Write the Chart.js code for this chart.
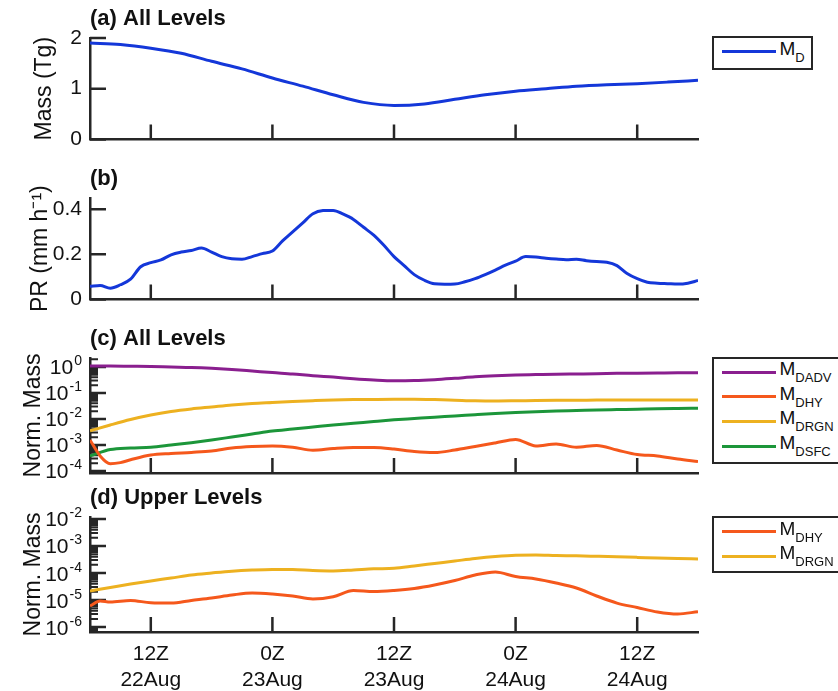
<!DOCTYPE html>
<html><head><meta charset="utf-8">
<script src="https://cdn.jsdelivr.net/npm/chart.js@4.4.1/dist/chart.umd.min.js"></script>
<style>
html,body{margin:0;padding:0;background:#fff;overflow:hidden;}
#wrap{position:relative;width:838px;height:691px;overflow:hidden;background:#fff;font-family:"Liberation Sans",Arial,Helvetica,sans-serif;}
#wrap canvas{position:absolute;left:0;}
.legend{position:absolute;border:2.5px solid #262626;background:#fff;box-sizing:border-box;}
.legend .row{position:absolute;left:7.5px;height:0;white-space:nowrap;}
.legend .swatch{position:absolute;left:0;top:-1.5px;width:54px;height:3px;}
.legend .lab{position:absolute;left:58px;top:-13.3px;font-size:19px;line-height:19px;color:#111;}
.legend sub{font-size:13px;vertical-align:baseline;position:relative;top:7px;}
</style></head><body><div id="wrap"></div>
<script>
// ---------------- data ----------------
const X_TICKS = [6, 18, 30, 42, 54];               // hours after 06Z 22 Aug
const X_TICK_TIMES = ['12Z', '0Z', '12Z', '0Z', '12Z'];
const X_TICK_DATES = ['22Aug', '23Aug', '23Aug', '24Aug', '24Aug'];

const HOURS_3H = [0,3,6,9,12,15,18,21,24,27,30,33,36,39,42,45,48,51,54,57,60];
const MASS_MD = [1.90,1.87,1.80,1.70,1.54,1.39,1.21,1.05,0.88,0.73,0.67,0.70,0.79,0.88,0.95,1.00,1.05,1.08,1.10,1.13,1.165];

const HOURS_1H = [0,1,2,3,4,5,6,7,8,9,10,11,12,13,14,15,16,17,18,19,20,21,22,23,24,25,26,27,28,29,30,
  31,32,33,34,35,36,37,38,39,40,41,42,43,44,45,46,47,48,49,50,51,52,53,54,55,56,57,58,59,60];
const PR = [0.058,0.062,0.050,0.065,0.090,0.145,0.163,0.175,0.198,0.210,0.217,0.228,0.210,0.190,0.180,0.178,0.190,0.203,0.215,0.260,0.300,0.340,0.380,0.394,0.395,0.378,0.355,0.320,0.285,0.240,0.190,0.150,0.110,0.085,0.069,0.067,0.068,0.078,0.092,0.110,0.130,0.152,0.170,0.190,0.188,0.183,0.179,0.176,0.178,0.172,0.168,0.165,0.150,0.115,0.092,0.076,0.072,0.070,0.068,0.072,0.084];

const HOURS_2H = [0,2,4,6,8,10,12,14,16,18,20,22,24,26,28,30,32,34,36,38,40,42,44,46,48,50,52,54,56,58,60];
const DADV_ALL = [1.09,1.09,1.07,1.05,1.0,0.96,0.89,0.80,0.70,0.61,0.54,0.46,0.41,0.355,0.316,0.294,0.30,0.325,0.367,0.42,0.46,0.49,0.51,0.53,0.54,0.55,0.57,0.58,0.59,0.60,0.60];
const DRGN_ALL = [0.0035,0.0059,0.0096,0.0143,0.0194,0.0243,0.029,0.0346,0.0395,0.0432,0.0471,0.0506,0.0538,0.0557,0.0567,0.0573,0.0573,0.0557,0.0529,0.0501,0.0492,0.0501,0.0515,0.0524,0.0529,0.0533,0.0538,0.0538,0.0543,0.0543,0.0538];
const DSFC_ALL = [0.00038,0.00067,0.00077,0.00082,0.0010,0.00123,0.00156,0.00203,0.00265,0.00346,0.00412,0.00492,0.00588,0.00684,0.00802,0.00931,0.01045,0.01173,0.01304,0.01463,0.01629,0.01778,0.0191,0.0203,0.0212,0.0222,0.023,0.0238,0.0247,0.0253,0.0258];
const HOURS_DHY_ALL = [0,1,2,3,4,6,8,10,12,14,16,18,20,22,24,26,28,30,32,34,36,38,40,42,44,46,48,50,52,54,56,58,60];
const DHY_ALL = [0.00156,0.00038,0.00019,0.00021,0.00027,0.00041,0.00047,0.00052,0.00059,0.00077,0.00088,0.00092,0.00082,0.00063,0.00073,0.0008,0.0008,0.0007,0.00056,0.00051,0.00064,0.00088,0.0012,0.00163,0.00092,0.00109,0.00082,0.00096,0.00064,0.00043,0.00038,0.00029,0.00023];

const DRGN_UPPER = [2.15e-5,2.9e-5,3.9e-5,5.1e-5,6.5e-5,8.4e-5,1.0e-4,1.17e-4,1.29e-4,1.36e-4,1.35e-4,1.24e-4,1.19e-4,1.29e-4,1.43e-4,1.49e-4,1.82e-4,2.25e-4,2.78e-4,3.44e-4,4.08e-4,4.56e-4,4.64e-4,4.45e-4,4.34e-4,4.16e-4,3.98e-4,3.79e-4,3.6e-4,3.44e-4,3.3e-4];
const HOURS_DHY_UPPER = [0,1,2,4,6,8,10,12,14,16,18,20,22,24,26,28,30,32,34,36,38,40,42,44,46,48,50,52,54,56,58,60];
const DHY_UPPER = [6.0e-6,9.2e-6,8.4e-6,9.6e-6,7.9e-6,7.7e-6,9.6e-6,1.19e-5,1.53e-5,1.82e-5,1.67e-5,1.41e-5,1.09e-5,1.32e-5,2.25e-5,2.06e-5,2.25e-5,2.67e-5,3.6e-5,5.27e-5,8.43e-5,1.09e-4,7.4e-5,6.0e-5,4.26e-5,2.78e-5,1.41e-5,7.7e-6,5.27e-6,3.6e-6,3.03e-6,3.69e-6];

const Y_TICKS_A = [0, 1, 2];
const Y_TICKS_B = [0, 0.2, 0.4];
const Y_TICK_LABELS_B = ['0', '0.2', '0.4'];
const Y_EXP_C = [-4, -3, -2, -1, 0];
const Y_EXP_D = [-6, -5, -4, -3, -2];

// ---------------- styling ----------------
const FONT = '"Liberation Sans", Arial, Helvetica, sans-serif';
const AXIS_COLOR = '#262626';
const TEXT = '#111111';
const C_BLUE = '#1437d9', C_PURPLE = '#8a1f8f', C_ORANGE = '#f5581c', C_YELLOW = '#edb120', C_GREEN = '#1c963a';

const matlabAxes = {
  id: 'matlabAxes',
  beforeDatasetsDraw(chart) {
    const o = chart.options.plugins.matlabAxes;
    const {ctx, chartArea: ca, scales: {x, y}} = chart;
    ctx.save();
    ctx.strokeStyle = AXIS_COLOR;
    ctx.lineWidth = 2.5;
    ctx.beginPath();
    X_TICKS.forEach(v => { const px = x.getPixelForValue(v); ctx.moveTo(px, ca.bottom); ctx.lineTo(px, ca.bottom - 15); });
    const majors = o.log ? o.exps.map(e => Math.pow(10, e)) : o.ticks;
    majors.forEach(v => { const py = y.getPixelForValue(v); ctx.moveTo(ca.left, py); ctx.lineTo(ca.left + 16, py); });
    ctx.stroke();
    if (o.log) {
      ctx.lineWidth = 2;
      ctx.beginPath();
      const lo = Math.floor(Math.log10(y.min)), hi = Math.ceil(Math.log10(y.max));
      for (let d = lo; d <= hi; d++) {
        for (let k = 2; k <= 9; k++) {
          const v = k * Math.pow(10, d);
          if (v <= y.min || v >= y.max) continue;
          const py = y.getPixelForValue(v);
          ctx.moveTo(ca.left, py); ctx.lineTo(ca.left + 8, py);
        }
      }
      ctx.stroke();
    }
    ctx.restore();
  },
  afterDraw(chart) {
    const o = chart.options.plugins.matlabAxes;
    const {ctx, chartArea: ca, scales: {y}} = chart;
    ctx.save();
    ctx.fillStyle = TEXT;
    ctx.font = 'bold 22px ' + FONT;
    ctx.textAlign = 'left';
    ctx.textBaseline = 'middle';
    ctx.fillText(o.title, ca.left, ca.top - 19);
    if (o.log) {
      const R = ca.left - 8;
      o.exps.forEach(e => {
        const py = y.getPixelForValue(Math.pow(10, e));
        const es = String(e);
        ctx.textBaseline = 'alphabetic';
        ctx.textAlign = 'left';
        ctx.font = '14px ' + FONT;
        const we = ctx.measureText(es).width;
        ctx.font = '21px ' + FONT;
        const wb = ctx.measureText('10').width;
        ctx.fillText('10', R - we - wb - 1, py + 7.5);
        ctx.font = '14px ' + FONT;
        ctx.fillText(es, R - we, py - 1.5);
      });
    }
    ctx.restore();
  }
};

const wrap = document.getElementById('wrap');

function makePanel(cfg) {
  const canvas = document.createElement('canvas');
  canvas.width = 838; canvas.height = cfg.height;
  canvas.style.top = cfg.top + 'px';
  canvas.style.width = '838px'; canvas.style.height = cfg.height + 'px';
  wrap.appendChild(canvas);
  const yScale = {
    type: cfg.log ? 'logarithmic' : 'linear',
    min: cfg.yMin, max: cfg.yMax,
    afterBuildTicks: s => {
      s.ticks = (cfg.log ? cfg.exps.map(e => Math.pow(10, e)) : cfg.yTicks).map(v => ({value: v}));
    },
    afterFit: s => { s.width = 90; },
    grid: {display: false, drawTicks: false},
    border: {display: true, color: AXIS_COLOR, width: 2.5},
    ticks: {
      display: !cfg.log, padding: 8, color: TEXT, font: {family: FONT, size: 21},
      callback: (v, i) => cfg.yLabels ? cfg.yLabels[i] : String(v)
    },
    title: {display: true, text: cfg.yTitle, color: TEXT, font: {family: FONT, size: 23},
            padding: {top: cfg.titlePad, bottom: 0}}
  };
  return new Chart(canvas, {
    type: 'line',
    data: {
      datasets: cfg.series.map(s => ({
        label: s.label,
        data: s.hours.map((h, i) => ({x: h, y: s.values[i]})),
        borderColor: s.color, backgroundColor: s.color,
        borderWidth: 3, pointRadius: 0, fill: false,
        cubicInterpolationMode: 'monotone', borderJoinStyle: 'round'
      }))
    },
    options: {
      responsive: false, animation: false, devicePixelRatio: 1,
      layout: {padding: {top: 38, right: 140, left: 0, bottom: 0}},
      plugins: {
        legend: {display: false}, tooltip: {enabled: false},
        matlabAxes: {title: cfg.title, log: !!cfg.log, exps: cfg.exps, ticks: cfg.yTicks}
      },
      scales: {
        x: {
          type: 'linear', min: 0, max: 60,
          afterBuildTicks: s => { s.ticks = X_TICKS.map(v => ({value: v})); },
          afterFit: s => { s.height = cfg.height - 153; },
          grid: {display: false, drawTicks: false},
          border: {display: true, color: AXIS_COLOR, width: 2.5},
          ticks: {
            display: !!cfg.xLabels, autoSkip: false, maxRotation: 0, padding: 10, color: TEXT,
            font: {family: FONT, size: 21, lineHeight: 1.2},
            callback: (v, i) => [X_TICK_TIMES[i], X_TICK_DATES[i]]
          }
        },
        y: yScale
      }
    },
    plugins: [matlabAxes]
  });
}

function makeLegend(chart, box) {
  const div = document.createElement('div');
  div.className = 'legend';
  div.style.left = box.left + 'px'; div.style.top = box.top + 'px';
  div.style.width = box.width + 'px'; div.style.height = box.height + 'px';
  chart.data.datasets.forEach((ds, i) => {
    const row = document.createElement('div');
    row.className = 'row';
    row.style.top = (box.first + i * box.step) + 'px';
    const sw = document.createElement('span');
    sw.className = 'swatch'; sw.style.background = ds.borderColor;
    const lab = document.createElement('span');
    lab.className = 'lab';
    lab.innerHTML = 'M<sub>' + ds.label + '</sub>';
    row.appendChild(sw); row.appendChild(lab);
    div.appendChild(row);
  });
  wrap.appendChild(div);
}

const chartA = makePanel({
  top: 0, height: 160, title: '(a) All Levels', yTitle: 'Mass (Tg)', titlePad: 31,
  yMin: 0, yMax: 2, yTicks: Y_TICKS_A,
  series: [{label: 'D', hours: HOURS_3H, values: MASS_MD, color: C_BLUE}]
});
const chartB = makePanel({
  top: 160, height: 160, title: '(b)', yTitle: 'PR (mm h\u207B\u00B9)', titlePad: 27,
  yMin: 0, yMax: 0.45, yTicks: Y_TICKS_B, yLabels: Y_TICK_LABELS_B,
  series: [{label: 'PR', hours: HOURS_1H, values: PR, color: C_BLUE}]
});
const chartC = makePanel({
  top: 320, height: 160, title: '(c) All Levels', yTitle: 'Norm. Mass', titlePad: 20,
  log: true, yMin: Math.pow(10, -4.077), yMax: Math.pow(10, 0.346), exps: Y_EXP_C,
  series: [
    {label: 'DADV', hours: HOURS_2H, values: DADV_ALL, color: C_PURPLE},
    {label: 'DHY', hours: HOURS_DHY_ALL, values: DHY_ALL, color: C_ORANGE},
    {label: 'DRGN', hours: HOURS_2H, values: DRGN_ALL, color: C_YELLOW},
    {label: 'DSFC', hours: HOURS_2H, values: DSFC_ALL, color: C_GREEN}
  ]
});
const chartD = makePanel({
  top: 479, height: 212, title: '(d) Upper Levels', yTitle: 'Norm. Mass', titlePad: 20, xLabels: true,
  log: true, yMin: Math.pow(10, -6.185), yMax: Math.pow(10, -1.926), exps: Y_EXP_D,
  series: [
    {label: 'DHY', hours: HOURS_DHY_UPPER, values: DHY_UPPER, color: C_ORANGE},
    {label: 'DRGN', hours: HOURS_2H, values: DRGN_UPPER, color: C_YELLOW}
  ]
});

makeLegend(chartA, {left: 712, top: 36, width: 101, height: 33.5, first: 13.8, step: 0});
makeLegend(chartC, {left: 712, top: 357, width: 150, height: 106.5, first: 13, step: 24.8});
makeLegend(chartD, {left: 712, top: 516, width: 150, height: 57, first: 13.8, step: 24.4});
</script></body></html>
